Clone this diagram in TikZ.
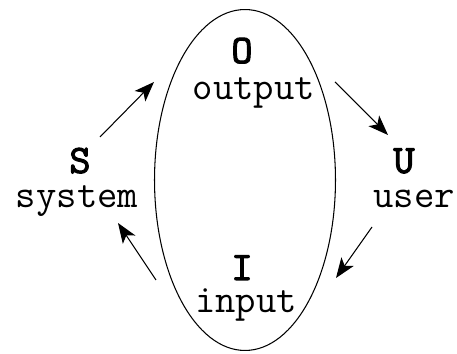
\documentclass[tikz,border=0pt]{standalone}
\usepackage{fontspec}
\newfontfamily\lettertt{lmmono10-regular}[Extension=.otf,FakeBold=2.5]
\usetikzlibrary{shapes.geometric,arrows.meta}

\begin{document}
\begin{tikzpicture}[
    x=0.02cm, y=-0.02cm,
    letter/.style={
        anchor=base,
        inner sep=0pt,
        font=\lettertt\fontsize{23}{23}\selectfont
    },
    word/.style={
        anchor=base,
        inner sep=0pt,
        font=\ttfamily\fontsize{22.5}{23}\selectfont
    },
    flow/.style={
        -{Stealth[length=0.4cm,width=0.3cm,inset=0.1cm]},
        line width=0.6pt
    }
]
\useasboundingbox (0,0) rectangle (457,354);

% Interface
\node[ellipse, draw, line width=0.6pt, inner sep=0pt,
      minimum width=3.62cm, minimum height=6.82cm] (loop) at (245,180) {};

% Output
\node[letter] (O) at (242,63) {O};
\node[word] (out) at (254,100) {output};

% User
\node[letter] (U) at (404,173) {U};
\node[word] (usr) at (414,208) {user};

% Input
\node[letter] (I) at (242,280) {I};
\node[word] (in) at (246,313) {input};

% System
\node[letter] (S) at (80,173) {S};
\node[word] (sys) at (77,208) {system};

% Arrow ends
\coordinate (s1) at (100,137);
\coordinate (o1) at (154,82);
\coordinate (o2) at (335,82);
\coordinate (u1) at (388,135);
\coordinate (u2) at (372,227);
\coordinate (i1) at (336,278);
\coordinate (i2) at (156,280);
\coordinate (s2) at (118,223);

% Cycle
\draw[flow] (s1) -- (o1);
\draw[flow] (o2) -- (u1);
\draw[flow] (u2) -- (i1);
\draw[flow] (i2) -- (s2);

\end{tikzpicture}
\end{document}
